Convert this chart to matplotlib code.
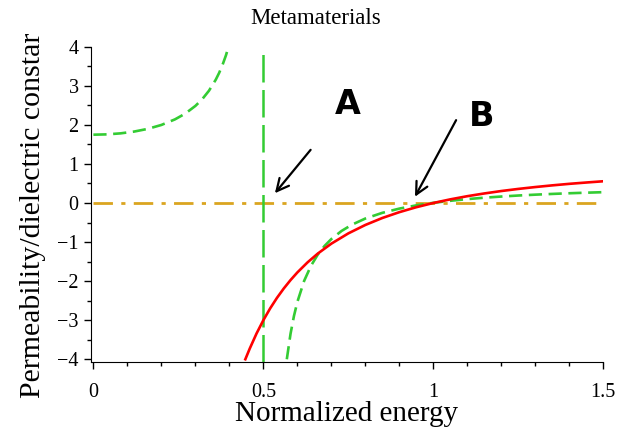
import matplotlib
matplotlib.use("Agg")
import matplotlib.pyplot as plt
from matplotlib.ticker import MultipleLocator

plt.rcParams['font.family'] = ['Liberation Serif', 'DejaVu Serif']
plt.rcParams['axes.unicode_minus'] = True

# permittivity (red, solid)
eps_x = [0.447, 0.46, 0.48, 0.50, 0.52, 0.54, 0.56, 0.58, 0.60, 0.63, 0.66, 0.70,
         0.75, 0.80, 0.85, 0.90, 0.95, 1.00, 1.05, 1.10, 1.15, 1.20, 1.25, 1.30,
         1.35, 1.40, 1.45, 1.50]
eps_y = [-4.0, -3.726, -3.340, -3.0, -2.698, -2.429, -2.189, -1.973, -1.778, -1.520,
         -1.296, -1.041, -0.778, -0.5625, -0.384, -0.235, -0.108, 0.0, 0.093, 0.174,
         0.244, 0.306, 0.36, 0.408, 0.451, 0.490, 0.524, 0.556]

# permeability (green, dashed) below resonance
mu_low_x = [0.0, 0.04, 0.08, 0.12, 0.16, 0.20, 0.24, 0.27, 0.30, 0.32, 0.34, 0.36,
            0.37, 0.38, 0.39, 0.398]
mu_low_y = [1.748, 1.756, 1.782, 1.828, 1.897, 1.997, 2.140, 2.286, 2.484, 2.655,
            2.873, 3.156, 3.331, 3.537, 3.780, 4.01]

# permeability (green, dashed) above resonance
mu_high_x = [0.569, 0.58, 0.59, 0.60, 0.62, 0.64, 0.66, 0.68, 0.70, 0.73, 0.76, 0.80,
             0.85, 0.90, 0.95, 1.00, 1.05, 1.10, 1.15, 1.20, 1.25, 1.30, 1.35, 1.40,
             1.45, 1.50]
mu_high_y = [-4.0, -3.345, -2.893, -2.533, -1.993, -1.609, -1.322, -1.100, -0.923,
             -0.716, -0.558, -0.398, -0.252, -0.144, -0.061, 0.004, 0.056, 0.099,
             0.135, 0.165, 0.191, 0.213, 0.232, 0.249, 0.2635, 0.2765]

resonance_x = 0.5
zero_x = [0.0, 1.5]
zero_y = [0.0, 0.0]

title = "Metamaterials"
xlabel = "Normalized energy"
ylabel = "Permeability/dielectric constar"
xticks = [0, 0.5, 1, 1.5]
xticklabels = ["0", "0.5", "1", "1.5"]
yticks = [-4, -3, -2, -1, 0, 1, 2, 3, 4]

GREEN = '#33CC33'
RED = '#FF0000'
ORANGE = '#DAA520'

fig = plt.figure(figsize=(6.24, 4.30), dpi=100)
ax = fig.add_axes([91/624, (430-362)/430, (603.3-91)/624, (362-46.7)/430])
ax.set_xlim(-0.007, 1.5)
ax.set_ylim(-4.07, 4.0)

ax.plot(zero_x, zero_y, color=ORANGE, lw=2.0, dashes=(7, 3, 1.5, 3))
ax.axvline(resonance_x, ymin=0.0, ymax=1.0, color=GREEN, lw=1.8, dashes=(11, 3))
ax.plot(mu_low_x, mu_low_y, color=GREEN, lw=1.9, dashes=(5, 2.5), clip_on=False)
ax.plot(mu_high_x, mu_high_y, color=GREEN, lw=1.9, dashes=(5, 2.5))
ax.plot(eps_x, eps_y, color=RED, lw=1.9)

ax.annotate("", xy=(0.534, 0.25), xytext=(0.639, 1.36),
            arrowprops=dict(arrowstyle='->', color='black', lw=1.6,
                            mutation_scale=22, shrinkA=0, shrinkB=0))
ax.annotate("", xy=(0.946, 0.16), xytext=(1.067, 2.12),
            arrowprops=dict(arrowstyle='->', color='black', lw=1.6,
                            mutation_scale=22, shrinkA=0, shrinkB=0))
ax.text(0.748, 2.53, "A", fontsize=24, fontweight='heavy', family='DejaVu Sans',
        ha='center', va='center')
ax.text(1.143, 2.21, "B", fontsize=24, fontweight='heavy', family='DejaVu Sans',
        ha='center', va='center')

for s in ['top', 'right']:
    ax.spines[s].set_visible(False)
ax.spines['left'].set_bounds(-4.07, 4.0)

ax.set_xticks(xticks)
ax.set_xticklabels(xticklabels)
ax.set_yticks(yticks)
ax.xaxis.set_minor_locator(MultipleLocator(0.1))
ax.yaxis.set_minor_locator(MultipleLocator(0.5))
ax.tick_params(axis='both', which='major', labelsize=14.5, length=5, width=1)
ax.tick_params(axis='x', which='major', pad=10)
ax.tick_params(axis='y', which='major', pad=4)
ax.tick_params(axis='both', which='minor', length=3, width=1)

fig.text(315.5/624, 1 - 18/430, title, fontsize=16.5, ha='center', va='center')
fig.text(346.7/624, 1 - 414/430, xlabel, fontsize=21, ha='center', va='center')
fig.text(33/624, 1 - 215.5/430, ylabel, fontsize=21.5, ha='center', va='center',
         rotation=90)

fig.savefig("out.png", dpi=100)
